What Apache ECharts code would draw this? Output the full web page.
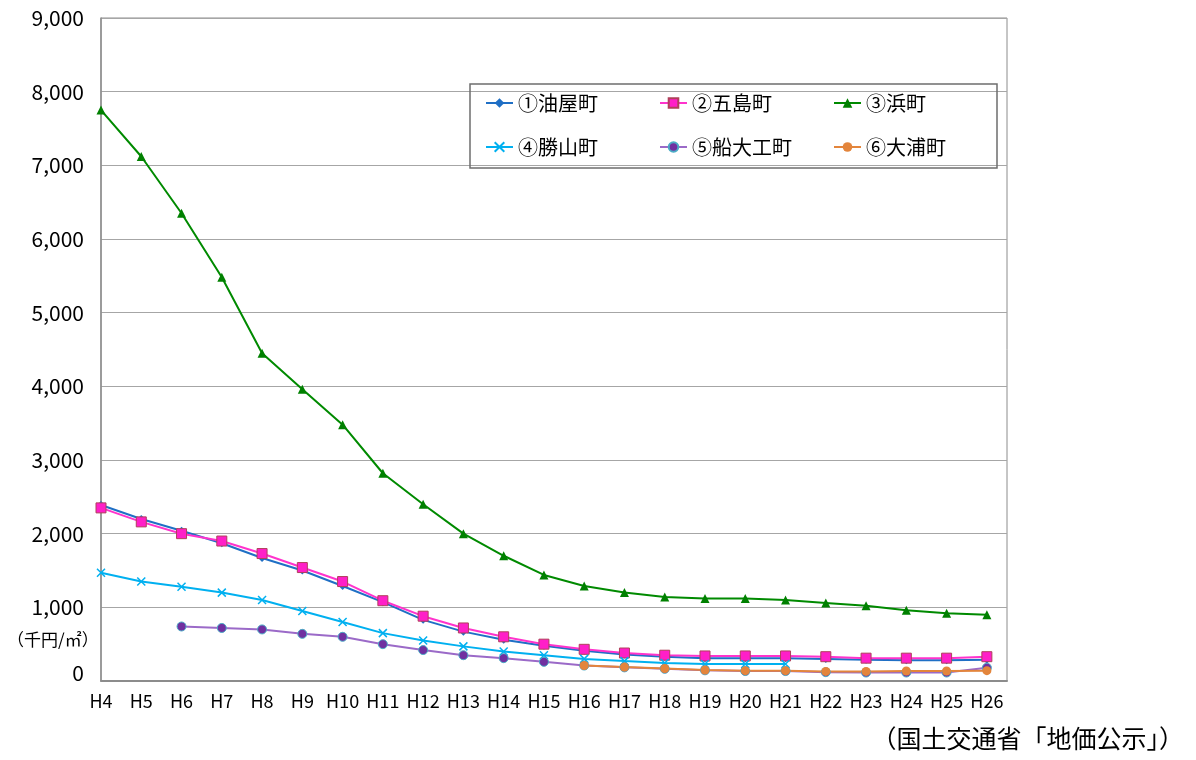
<!DOCTYPE html>
<html>
<head>
<meta charset="utf-8">
<script src="https://cdn.jsdelivr.net/npm/echarts@6/dist/echarts.min.js"></script>
<style>html,body{margin:0;padding:0;background:#fff;}#c{width:1196px;height:760px;}</style>
</head>
<body>
<div id="c"></div>
<script>
const categories = ['H4','H5','H6','H7','H8','H9','H10','H11','H12','H13','H14','H15','H16','H17','H18','H19','H20','H21','H22','H23','H24','H25','H26'];
const seriesNames = ['①油屋町','②五島町','③浜町','④勝山町','⑤船大工町','⑥大浦町'];
const aburaya   = [2390,2200,2040,1870,1670,1500,1290,1070,830,670,560,480,410,360,330,310,310,310,300,290,280,280,290];
const goto_     = [2350,2160,2000,1900,1730,1540,1350,1090,880,720,600,500,430,380,350,340,340,340,330,310,310,310,330];
const hama      = [7750,7120,6350,5480,4450,3960,3480,2820,2400,2000,1700,1440,1290,1200,1140,1120,1120,1100,1060,1020,960,920,900];
const katsuyama = [1470,1350,1280,1200,1100,950,800,650,550,470,400,350,300,270,245,230,230,230,null,null,null,null,null];
const funadaiku = [null,null,740,720,700,640,600,500,420,350,310,260,210,185,165,145,135,135,120,115,115,115,180];
const oura      = [null,null,null,null,null,null,null,null,null,null,null,null,210,190,170,150,140,140,130,130,135,135,140];
const yTicks = [0,1000,2000,3000,4000,5000,6000,7000,8000,9000];

function pts(arr){ const out=[]; arr.forEach((v,i)=>{ if(v!=null) out.push([i,v]); }); return out; }

const font = '"Noto Sans CJK JP", "Noto Sans", sans-serif';
const chart = echarts.init(document.getElementById('c'));
const xPath = 'path://M0,0L10,10M10,0L0,10';
const legendText = {fontFamily:font,fontSize:20,color:'#000',height:38,lineHeight:38};

chart.setOption({
  animation:false,
  backgroundColor:'#fff',
  textStyle:{fontFamily:font},
  grid:{left:101,right:189,top:18,bottom:79,show:true,borderColor:'#8c8c8c',borderWidth:1},
  legend:{
    left:470, top:84, width:523,
    orient:'horizontal',
    data:seriesNames.map((n,i)=>({name:n,textStyle:Object.assign({},legendText,{width:(i%3===2)?126:135})})),
    itemWidth:27, itemHeight:12, itemGap:6,
    padding:[0,5,2,15],
    borderColor:'#6e6e6e', borderWidth:1.5,
    textStyle:legendText
  },
  xAxis:{
    type:'value', min:0, max:22.5, interval:1,
    axisLine:{show:true,lineStyle:{color:'#8c8c8c',width:2}},
    axisTick:{show:false},
    splitLine:{show:false},
    axisLabel:{margin:11,fontSize:18,color:'#000',fontFamily:font,
      formatter:function(v){ return Number.isInteger(v) && categories[v] ? categories[v] : ''; }}
  },
  yAxis:{
    type:'value', min:yTicks[0], max:yTicks[yTicks.length-1], interval:1000,
    axisLine:{show:true,lineStyle:{color:'#8c8c8c',width:1.5}},
    axisTick:{show:false},
    splitLine:{lineStyle:{color:'#a6a6a6',width:1}},
    axisLabel:{margin:17,fontSize:21,color:'#000',fontFamily:font,
      formatter:function(v){ return v===0 ? '{z|0}' : v.toLocaleString('en-US'); },
      rich:{z:{fontSize:21,fontFamily:font,color:'#000',padding:[0,0,16,0]}}}
  },
  graphic:[
    {type:'text',left:7,top:631,style:{text:'（千円/㎡）',fontSize:17,fontFamily:font,fill:'#000'}},
    {type:'text',right:12,top:726,style:{text:'（国土交通省「地価公示」）',fontSize:25,fontFamily:font,fill:'#000'}}
  ],
  series:[
    {name:seriesNames[0],type:'line',data:pts(aburaya),symbol:'diamond',symbolSize:8,
      lineStyle:{color:'#1f6fc5',width:2},itemStyle:{color:'#1f6fc5'}},
    {name:seriesNames[1],type:'line',data:pts(goto_),symbol:'rect',symbolSize:10,
      lineStyle:{color:'#ff33cc',width:2},itemStyle:{color:'#ff1fc8',borderColor:'#b0405a',borderWidth:1}},
    {name:seriesNames[2],type:'line',data:pts(hama),symbol:'triangle',symbolSize:9,
      lineStyle:{color:'#008a00',width:2},itemStyle:{color:'#008000'}},
    {name:seriesNames[3],type:'line',data:pts(katsuyama),symbol:xPath,symbolSize:8,
      lineStyle:{color:'#00b0f0',width:2},itemStyle:{color:'#00b0f0',borderColor:'#00b0f0',borderWidth:1.5}},
    {name:seriesNames[4],type:'line',data:pts(funadaiku),symbol:'circle',symbolSize:9,
      lineStyle:{color:'#9b6ac8',width:2},itemStyle:{color:'#7030a0',borderColor:'#4bacc6',borderWidth:1}},
    {name:seriesNames[5],type:'line',data:pts(oura),symbol:'circle',symbolSize:9,
      lineStyle:{color:'#e3853c',width:2},itemStyle:{color:'#e3853c'}}
  ]
});
</script>
</body>
</html>
